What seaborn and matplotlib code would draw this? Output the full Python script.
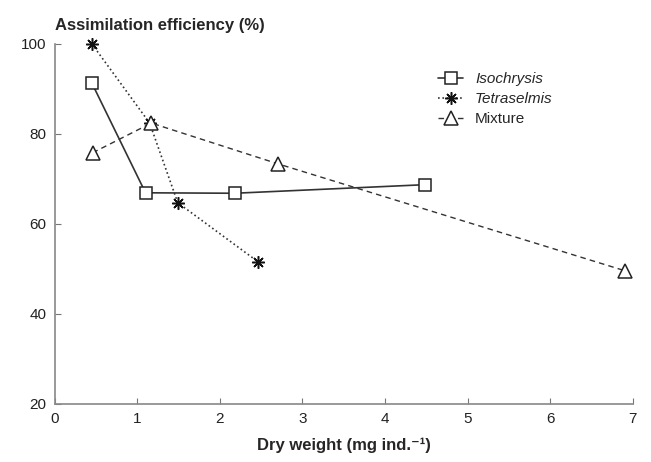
import matplotlib
matplotlib.use("Agg")
import matplotlib.pyplot as plt
import seaborn as sns
import pandas as pd

sns.set_theme(style="white")
plt.rcParams['font.family'] = ['Liberation Sans', 'DejaVu Sans']

iso_x = [0.45, 1.1, 2.18, 4.48]
iso_y = [91.3, 66.9, 66.8, 68.7]
tet_x = [0.45, 1.15, 1.49, 2.46]
tet_y = [100.0, 82.4, 64.7, 51.6]
mix_x = [0.46, 1.17, 2.71, 6.9]
mix_y = [75.8, 82.4, 73.3, 49.6]

xticks = [0, 1, 2, 3, 4, 5, 6, 7]
yticks = [20, 40, 60, 80, 100]

fig = plt.figure(figsize=(6.51, 4.62), dpi=100)
ax = fig.add_axes([0.084, 0.126, 0.888, 0.779])

sns.lineplot(x=iso_x, y=iso_y, ax=ax, color='#333333', lw=1.2, marker='s',
             markersize=8, markerfacecolor='white', markeredgecolor='#222222',
             markeredgewidth=1.1, label='Isochrysis', sort=False, clip_on=False)
sns.lineplot(x=tet_x, y=tet_y, ax=ax, color='#333333', lw=1.2, linestyle=':',
             marker=(8, 2, 0), markersize=9, markeredgecolor='#111111',
             markeredgewidth=1.1, label='Tetraselmis', sort=False, clip_on=False)
sns.lineplot(x=mix_x, y=mix_y, ax=ax, color='#333333', lw=1.0, linestyle=(0, (4, 3)),
             marker='^', markersize=10, markerfacecolor='white', markeredgecolor='#222222',
             markeredgewidth=1.1, label='Mixture', sort=False, clip_on=False)

ax.set_xlim(0, 7)
ax.set_ylim(20, 100)
ax.set_xticks(xticks)
ax.set_yticks(yticks)
ax.tick_params(direction='in', length=4, width=0.8, color='#777777',
               labelsize=11, colors='#222222', pad=6, left=True, bottom=True)
for s in ['top', 'right']:
    ax.spines[s].set_visible(False)
for s in ['left', 'bottom']:
    ax.spines[s].set_color('#888888')
    ax.spines[s].set_linewidth(1.2)

ax.set_xlabel('Dry weight (mg ind.⁻¹)', fontsize=12, fontweight='bold', labelpad=8)
ax.set_ylabel('')
fig.text(0.084, 0.945, 'Assimilation efficiency (%)', fontsize=12, fontweight='bold',
         ha='left', va='center')

leg = ax.legend(loc='upper left', bbox_to_anchor=(0.64, 0.96), frameon=False,
                fontsize=11, handlelength=1.6, labelspacing=0.4)
for t in leg.get_texts()[:2]:
    t.set_fontstyle('italic')

fig.savefig('out.png', dpi=100)
